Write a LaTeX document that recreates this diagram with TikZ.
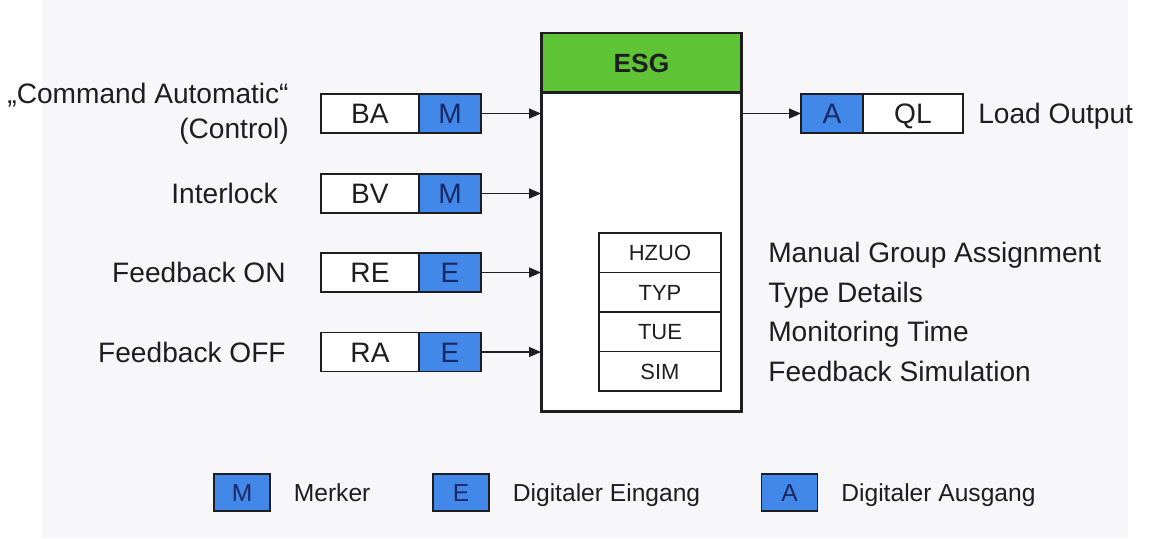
\documentclass[tikz,border=0pt]{standalone}
\usepackage{fontspec}
\setmainfont{Liberation Sans}
\usepackage{tikz}
\usetikzlibrary{positioning,arrows.meta}
\definecolor{SigBlue}{RGB}{66,136,232}
\definecolor{SigText}{RGB}{28,40,100}
\definecolor{HeadGreen}{RGB}{94,196,54}
\definecolor{PaperGray}{RGB}{247,246,248}
\definecolor{InkBlack}{RGB}{30,30,34}

\begin{document}
\begin{tikzpicture}[
  x=0.02cm, y=-0.02cm,
  every node/.style={font=\fontsize{16}{20}\selectfont, text=InkBlack},
  namebox/.style={draw=InkBlack, fill=white, line width=0.7pt, minimum width=1.96cm, minimum height=0.78cm, inner sep=0pt, outer sep=0pt, text height=11.5pt, text depth=0pt},
  sigbox/.style={draw=InkBlack, fill=SigBlue, line width=0.7pt, minimum width=1.24cm, minimum height=0.78cm, inner sep=0pt, outer sep=0pt, text=SigText, text height=11.5pt, text depth=0pt},
  blockbox/.style={draw=InkBlack, line width=1.7pt, minimum width=4.02cm, inner sep=0pt, outer sep=0pt},
  parcell/.style={draw=InkBlack, fill=white, line width=0.7pt, minimum width=2.44cm, minimum height=0.79cm, inner sep=0pt, outer sep=0pt, font=\fontsize{12.5}{15}\selectfont, text height=9pt, text depth=0pt},
  lbl/.style={inner sep=0pt, text height=11.5pt, text depth=0pt},
  keybox/.style={draw=InkBlack, fill=SigBlue, line width=0.6pt, minimum width=1.12cm, minimum height=0.74cm, inner sep=0pt, text=SigText, font=\fontsize{14}{17}\selectfont, text height=10pt, text depth=0pt},
  keytxt/.style={inner sep=0pt, font=\fontsize{14}{17}\selectfont, text height=10pt, text depth=0pt},
  arr/.style={-{Triangle[length=2.4mm,width=2mm]}, line width=0.6pt, draw=InkBlack}
]
\useasboundingbox (0,0) rectangle (1158,538);
\fill[PaperGray] (42,0) rectangle (1128,538);

% function block
\node[blockbox, fill=HeadGreen, minimum height=1.2cm, anchor=north west, font=\bfseries\fontsize{15}{18}\selectfont] (esg) at (541,33) {ESG};
\node[blockbox, fill=white, minimum height=6.38cm, below=0pt of esg] (body) {};

% inputs
\node[namebox, anchor=west] (ba) at (321,113.5) {BA};
\node[sigbox, right=0pt of ba] (ba-m) {M};
\node[namebox, anchor=west] (bv) at (321,193.5) {BV};
\node[sigbox, right=0pt of bv] (bv-m) {M};
\node[namebox, anchor=west] (re) at (321,272.5) {RE};
\node[sigbox, right=0pt of re] (re-e) {E};
\node[namebox, anchor=west] (ra) at (321,352) {RA};
\node[sigbox, right=0pt of ra] (ra-e) {E};

\node[inner sep=0pt, left=0.64cm of ba, align=right] (cmdauto) {„Command Automatic“\\(Control)};
\node[lbl, left=0.86cm of bv] (interlock) {Interlock};
\node[lbl, left=0.7cm of re] (fbon) {Feedback ON};
\node[lbl, left=0.7cm of ra] (fboff) {Feedback OFF};

% output
\node[sigbox, anchor=west] (ql-a) at (801,113.5) {A};
\node[namebox, minimum width=2cm, right=0pt of ql-a] (ql) {QL};
\node[lbl, right=0.3cm of ql] (loadout) {Load Output};

% parameters
\node[parcell, anchor=north west] (hzuo) at (599,233) {HZUO};
\node[parcell, below=0pt of hzuo] (typ) {TYP};
\node[parcell, below=0pt of typ] (tue) {TUE};
\node[parcell, below=0pt of tue] (sim) {SIM};
\node[lbl, right=0.94cm of hzuo] (hzuo-txt) {Manual Group Assignment};
\node[lbl, right=0.94cm of typ] (typ-txt) {Type Details};
\node[lbl, right=0.94cm of tue] (tue-txt) {Monitoring Time};
\node[lbl, right=0.94cm of sim] (sim-txt) {Feedback Simulation};

% legend
\node[keybox] (key-m) at (242,492.5) {M};
\node[keytxt, right=0.46cm of key-m] (key-m-txt) {Merker};
\node[keybox] (key-e) at (461,492.5) {E};
\node[keytxt, right=0.46cm of key-e] (key-e-txt) {Digitaler Eingang};
\node[keybox] (key-a) at (789.5,492.5) {A};
\node[keytxt, right=0.46cm of key-a] (key-a-txt) {Digitaler Ausgang};

\draw[arr] (ba-m.east) -- (ba-m.east -| body.west);
\draw[arr] (bv-m.east) -- (bv-m.east -| body.west);
\draw[arr] (re-e.east) -- (re-e.east -| body.west);
\draw[arr] (ra-e.east) -- (ra-e.east -| body.west);
\draw[arr] (body.east |- ql-a.west) -- (ql-a.west);
\end{tikzpicture}
\end{document}
